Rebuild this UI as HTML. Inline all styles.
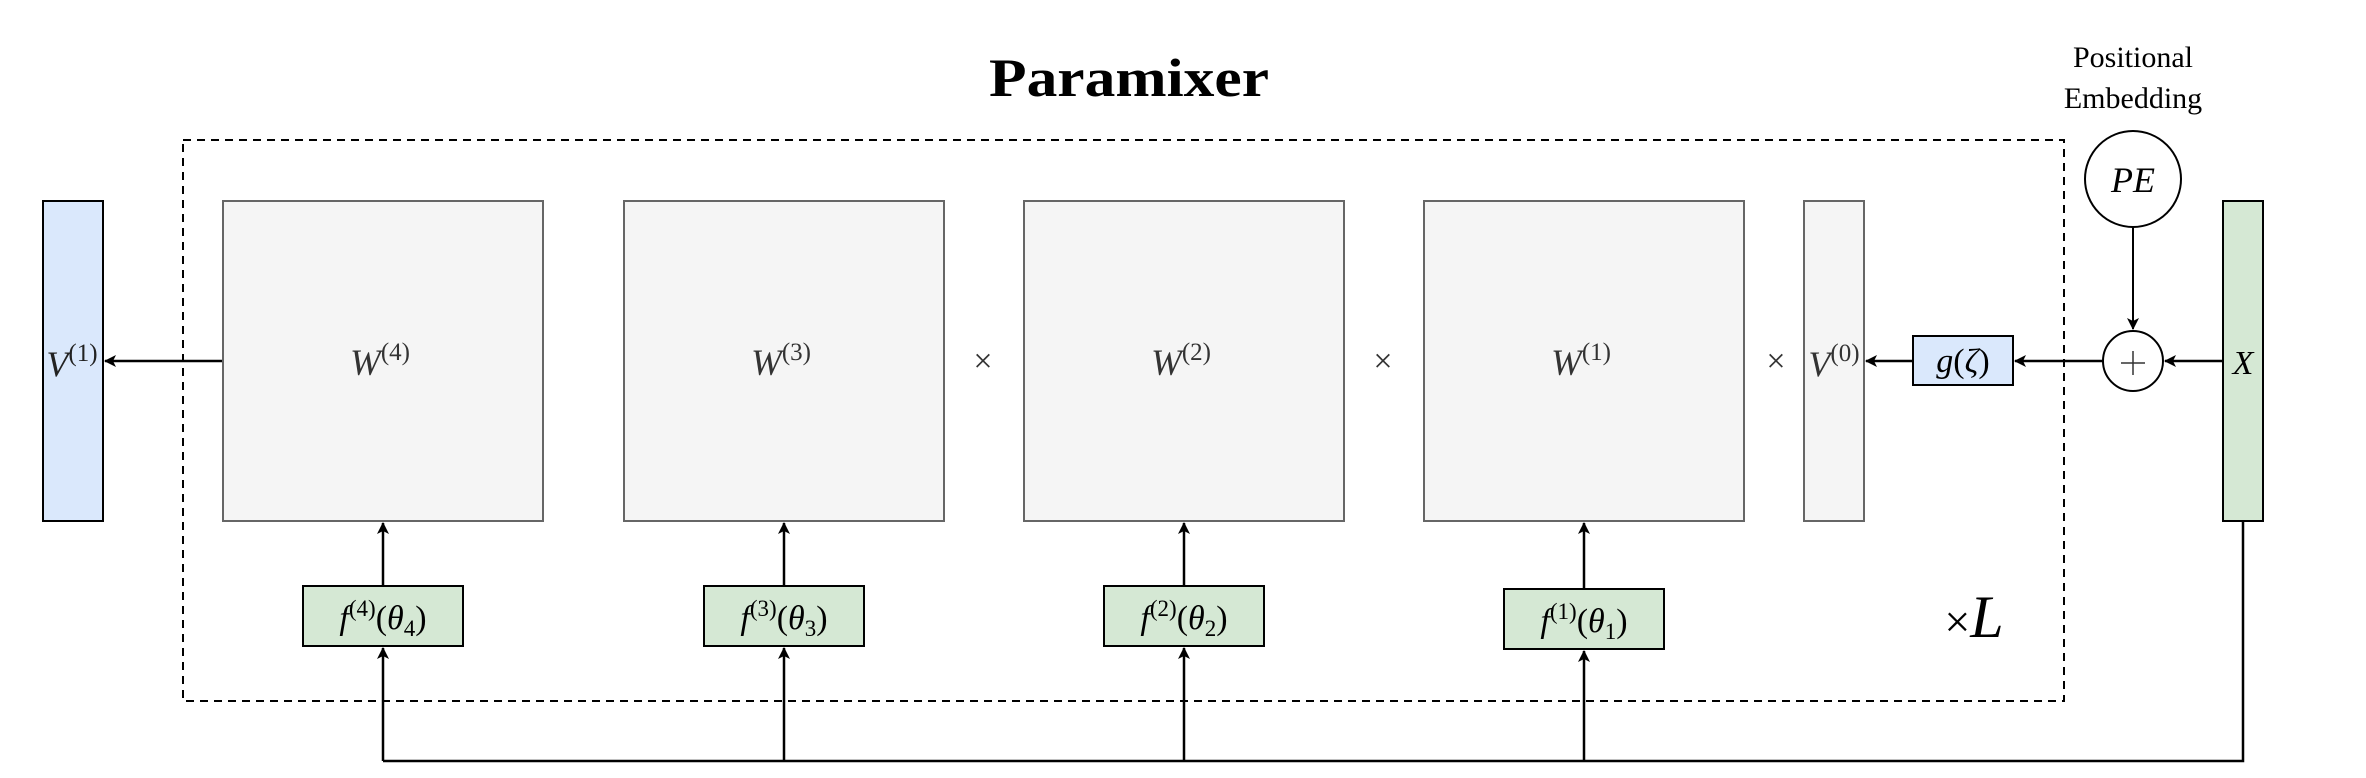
<!DOCTYPE html>
<html><head><meta charset="utf-8"><style>
html,body{margin:0;padding:0;background:#fff}
svg{display:block}
.m{font-family:"Liberation Serif",serif;font-style:italic}
.r{font-family:"Liberation Serif",serif;font-style:normal}
</style></head><body>
<svg width="2366" height="778" viewBox="0 0 2366 778" xmlns="http://www.w3.org/2000/svg">
<defs>
<marker id="ah" viewBox="0 0 12 12" refX="11" refY="6" markerWidth="12" markerHeight="12" markerUnits="userSpaceOnUse" orient="auto">
<path d="M0,0 L12,6 L0,12 L3,6 Z" fill="#000"/>
</marker>
</defs>
<text x="1129" y="96" text-anchor="middle" font-family="Liberation Serif, serif" font-weight="bold" font-size="54" textLength="280" lengthAdjust="spacingAndGlyphs">Paramixer</text>
<text x="2133" y="67" text-anchor="middle" font-family="Liberation Serif, serif" font-size="30">Positional</text>
<text x="2133" y="108" text-anchor="middle" font-family="Liberation Serif, serif" font-size="30">Embedding</text>

<rect x="183" y="140" width="1881" height="561" fill="none" stroke="#000" stroke-width="2" stroke-dasharray="8,6"/>

<rect x="43" y="201" width="60" height="320" fill="#dae8fc" stroke="#000" stroke-width="2"/>
<text class="m" x="72" y="376" text-anchor="middle" font-size="36" fill="#222">V<tspan class="r" font-size="25" dy="-15">(1)</tspan></text>
<line x1="223" y1="361" x2="105" y2="361" stroke="#000" stroke-width="2.5" marker-end="url(#ah)"/>

<g>
<rect x="223" y="201" width="320" height="320" fill="#f5f5f5" stroke="#666" stroke-width="2"/>
<text class="m" x="380" y="375" text-anchor="middle" font-size="37" fill="#333">W<tspan class="r" font-size="25" dy="-15">(4)</tspan></text></g>
<g>
<rect x="624" y="201" width="320" height="320" fill="#f5f5f5" stroke="#666" stroke-width="2"/>
<text class="m" x="781" y="375" text-anchor="middle" font-size="37" fill="#333">W<tspan class="r" font-size="25" dy="-15">(3)</tspan></text></g>
<g>
<rect x="1024" y="201" width="320" height="320" fill="#f5f5f5" stroke="#666" stroke-width="2"/>
<text class="m" x="1181" y="375" text-anchor="middle" font-size="37" fill="#333">W<tspan class="r" font-size="25" dy="-15">(2)</tspan></text></g>
<g>
<rect x="1424" y="201" width="320" height="320" fill="#f5f5f5" stroke="#666" stroke-width="2"/>
<text class="m" x="1581" y="375" text-anchor="middle" font-size="37" fill="#333">W<tspan class="r" font-size="25" dy="-15">(1)</tspan></text></g>
<g>
<rect x="1804" y="201" width="60" height="320" fill="#f5f5f5" stroke="#666" stroke-width="2"/>
<text class="m" x="1834" y="376" text-anchor="middle" font-size="36" fill="#333">V<tspan class="r" font-size="25" dy="-15">(0)</tspan></text></g>

<text class="r" x="983" y="372" text-anchor="middle" font-size="34" fill="#333">×</text>
<text class="r" x="1383" y="372" text-anchor="middle" font-size="34" fill="#333">×</text>
<text class="r" x="1776" y="372" text-anchor="middle" font-size="34" fill="#333">×</text>

<g>
<rect x="303" y="586" width="160" height="60" fill="#d5e8d4" stroke="#000" stroke-width="2"/>
<text class="m" x="383" y="629" text-anchor="middle" font-size="34">f<tspan class="r" font-size="23" dy="-13">(4)</tspan><tspan class="r" dy="13">(</tspan>θ<tspan class="r" font-size="23" dy="7">4</tspan><tspan class="r" dy="-7">)</tspan></text></g>
<g>
<rect x="704" y="586" width="160" height="60" fill="#d5e8d4" stroke="#000" stroke-width="2"/>
<text class="m" x="784" y="629" text-anchor="middle" font-size="34">f<tspan class="r" font-size="23" dy="-13">(3)</tspan><tspan class="r" dy="13">(</tspan>θ<tspan class="r" font-size="23" dy="7">3</tspan><tspan class="r" dy="-7">)</tspan></text></g>
<g>
<rect x="1104" y="586" width="160" height="60" fill="#d5e8d4" stroke="#000" stroke-width="2"/>
<text class="m" x="1184" y="629" text-anchor="middle" font-size="34">f<tspan class="r" font-size="23" dy="-13">(2)</tspan><tspan class="r" dy="13">(</tspan>θ<tspan class="r" font-size="23" dy="7">2</tspan><tspan class="r" dy="-7">)</tspan></text></g>
<g>
<rect x="1504" y="589" width="160" height="60" fill="#d5e8d4" stroke="#000" stroke-width="2"/>
<text class="m" x="1584" y="632" text-anchor="middle" font-size="34">f<tspan class="r" font-size="23" dy="-13">(1)</tspan><tspan class="r" dy="13">(</tspan>θ<tspan class="r" font-size="23" dy="7">1</tspan><tspan class="r" dy="-7">)</tspan></text></g>

<g stroke="#000" stroke-width="2.5" fill="none">
<line x1="383" y1="586" x2="383" y2="523" marker-end="url(#ah)"/>
<line x1="784" y1="586" x2="784" y2="523" marker-end="url(#ah)"/>
<line x1="1184" y1="586" x2="1184" y2="523" marker-end="url(#ah)"/>
<line x1="1584" y1="589" x2="1584" y2="523" marker-end="url(#ah)"/>
<polyline points="2243,521 2243,761 383,761"/>
<line x1="383" y1="761" x2="383" y2="648" marker-end="url(#ah)"/>
<line x1="784" y1="761" x2="784" y2="648" marker-end="url(#ah)"/>
<line x1="1184" y1="761" x2="1184" y2="648" marker-end="url(#ah)"/>
<line x1="1584" y1="761" x2="1584" y2="651" marker-end="url(#ah)"/>
</g>

<text x="1974" y="637" text-anchor="middle" font-size="60"><tspan class="r" font-size="46">×</tspan><tspan class="m">L</tspan></text>

<g>
<rect x="1913" y="336" width="100" height="49" fill="#dae8fc" stroke="#000" stroke-width="2"/>
<text class="m" x="1963" y="372" text-anchor="middle" font-size="34">g<tspan class="r">(</tspan>ζ<tspan class="r">)</tspan></text></g>
<line x1="1913" y1="361" x2="1866" y2="361" stroke="#000" stroke-width="2.5" marker-end="url(#ah)"/>
<line x1="2103" y1="361" x2="2015" y2="361" stroke="#000" stroke-width="2.5" marker-end="url(#ah)"/>

<g>
<circle cx="2133" cy="361" r="30" fill="#fff" stroke="#000" stroke-width="2"/>
<line x1="2121" y1="363" x2="2145" y2="363" stroke="#333" stroke-width="1.5"/>
<line x1="2133" y1="351" x2="2133" y2="375" stroke="#333" stroke-width="1.5"/></g>
<line x1="2223" y1="361" x2="2165" y2="361" stroke="#000" stroke-width="2.5" marker-end="url(#ah)"/>

<g>
<circle cx="2133" cy="179" r="48" fill="#fff" stroke="#000" stroke-width="2"/>
<text class="m" x="2133" y="192" text-anchor="middle" font-size="36">PE</text></g>
<line x1="2133" y1="227" x2="2133" y2="329" stroke="#000" stroke-width="2" marker-end="url(#ah)"/>

<g>
<rect x="2223" y="201" width="40" height="320" fill="#d5e8d4" stroke="#000" stroke-width="2"/>
<text class="m" x="2243" y="374" text-anchor="middle" font-size="34">X</text></g>
</svg>
</body></html>
